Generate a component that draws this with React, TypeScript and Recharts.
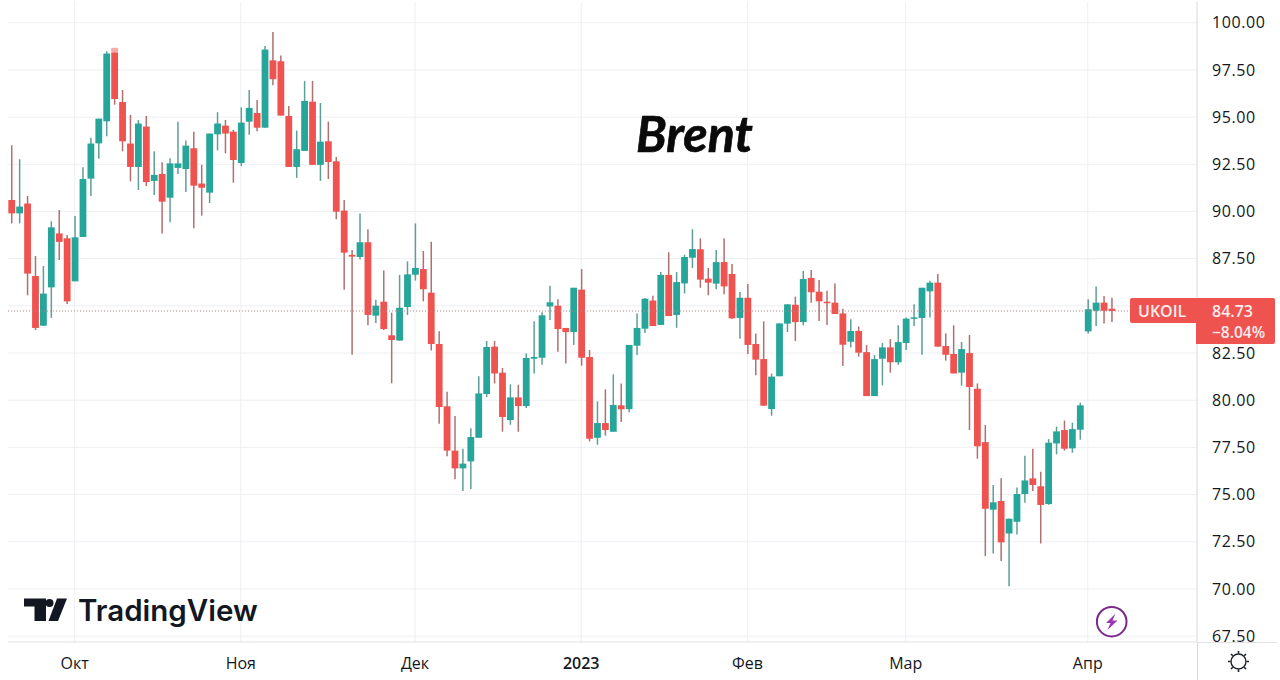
import React from 'react';
import { ComposedChart, Bar, XAxis, YAxis, CartesianGrid, ReferenceLine } from 'recharts';

const opens = [
  90.61, 89.9, 90.42, 86.58, 83.95, 85.98, 88.84, 88.58, 86.3, 88.65,
  91.74, 93.61, 94.78, 98.42, 95.8, 93.6, 92.36, 94.5, 91.62, 91.99,
  90.73, 92.31, 92.25, 93.35, 91.48, 91.0, 94.09, 94.55, 94.23, 92.57,
  94.76, 95.22, 94.44, 98.01, 97.96, 95.06, 92.36, 93.21, 95.82, 92.47,
  93.72, 92.66, 90.05, 87.7, 87.59, 88.37, 84.48, 85.22, 83.44, 83.16,
  84.94, 86.65, 86.95, 85.7, 82.98, 79.68, 77.33, 76.39, 76.76, 78.01,
  80.33, 82.84, 81.46, 78.95, 80.15, 79.69, 82.2, 82.25, 84.97, 85.01,
  83.83, 83.61, 85.86, 82.29, 78.01, 78.79, 78.33, 79.73, 79.53, 82.89,
  83.79, 85.28, 83.99, 86.64, 84.52, 86.19, 87.55, 88.0, 86.44, 86.18,
  87.32, 86.69, 84.36, 85.43, 82.98, 82.18, 79.53, 81.27, 84.06, 85.06,
  84.14, 86.48, 85.75, 85.22, 85.17, 84.6, 83.1, 83.67, 82.55, 80.22,
  82.2, 82.8, 82.01, 83.03, 84.32, 84.36, 85.77, 86.23, 82.87, 82.45,
  81.46, 82.5, 80.61, 77.78, 74.2, 74.66, 72.94, 73.56, 75.03, 75.86,
  75.44, 74.5, 77.71, 78.42, 77.45, 78.44, 83.65, 84.74, 85.17, 84.85,
];

const closes = [
  89.9, 90.26, 86.71, 83.83, 85.65, 89.16, 88.39, 85.24, 88.63, 91.72,
  93.6, 94.92, 98.37, 95.96, 93.72, 92.36, 94.66, 91.56, 91.94, 90.52,
  92.55, 92.55, 93.49, 91.37, 91.26, 94.13, 94.66, 94.13, 92.73, 94.71,
  95.49, 94.44, 98.58, 97.01, 95.08, 92.36, 93.3, 95.86, 92.47, 93.7,
  92.62, 89.99, 87.82, 87.61, 88.37, 84.52, 85.01, 83.77, 83.19, 84.9,
  86.67, 87.01, 85.88, 82.98, 79.64, 77.33, 76.39, 76.64, 78.05, 80.36,
  82.82, 81.42, 79.11, 80.15, 79.69, 82.24, 82.29, 84.5, 85.19, 83.77,
  83.61, 85.96, 82.25, 77.96, 78.79, 78.42, 79.75, 79.52, 82.93, 83.83,
  85.38, 83.93, 86.64, 84.46, 86.26, 87.59, 88.01, 86.39, 86.23, 87.32,
  86.03, 84.34, 85.43, 82.93, 82.15, 79.71, 81.25, 84.07, 85.08, 84.14,
  86.42, 85.72, 85.24, 85.15, 84.57, 82.94, 83.67, 82.52, 80.22, 82.18,
  82.8, 82.01, 83.08, 84.32, 84.39, 85.96, 86.23, 82.84, 82.41, 81.42,
  82.71, 80.7, 77.56, 74.25, 74.59, 72.47, 73.72, 75.03, 75.75, 75.51,
  74.45, 77.75, 78.35, 77.43, 78.47, 79.73, 84.82, 85.17, 84.74, 84.73,
];

const highs = [
  93.51, 92.77, 90.82, 87.64, 87.11, 89.48, 90.08, 88.76, 89.76, 92.34,
  93.91, 94.92, 98.49, 98.67, 96.44, 95.12, 94.85, 95.06, 93.19, 92.61,
  92.82, 94.76, 93.76, 94.23, 92.47, 94.13, 95.26, 94.85, 94.32, 95.52,
  96.44, 95.91, 98.77, 99.51, 98.26, 95.59, 94.29, 96.92, 96.92, 95.75,
  94.76, 92.89, 90.61, 87.96, 89.89, 89.06, 85.33, 86.87, 84.64, 86.64,
  87.36, 89.37, 87.91, 88.4, 83.65, 80.45, 79.16, 77.43, 78.51, 81.27,
  83.14, 83.14, 81.71, 80.84, 80.82, 82.48, 84.18, 84.66, 86.07, 85.35,
  83.83, 85.96, 86.95, 82.66, 79.94, 80.58, 81.37, 80.89, 82.93, 84.6,
  85.42, 85.54, 86.79, 87.84, 86.79, 87.71, 89.06, 88.58, 87.01, 87.96,
  88.58, 87.22, 85.73, 86.16, 83.54, 84.18, 81.41, 84.07, 85.1, 85.49,
  86.85, 86.9, 86.37, 85.8, 86.18, 84.85, 84.29, 83.91, 82.93, 82.4,
  83.03, 83.24, 83.97, 84.39, 85.08, 85.96, 86.33, 86.69, 83.54, 83.97,
  83.08, 83.46, 80.89, 78.69, 75.51, 75.86, 73.74, 75.38, 77.06, 77.43,
  76.21, 77.94, 78.6, 78.93, 78.81, 79.87, 85.35, 86.02, 85.52, 85.43,
];

const lows = [
  89.37, 89.37, 85.56, 83.72, 83.93, 84.36, 87.43, 85.1, 86.3, 88.65,
  90.82, 92.8, 93.98, 95.66, 93.19, 91.6, 91.14, 91.35, 90.88, 88.84,
  89.43, 91.99, 91.03, 89.11, 89.78, 90.45, 93.24, 93.08, 91.53, 92.41,
  94.07, 94.25, 94.44, 96.69, 95.08, 92.36, 91.78, 93.21, 92.47, 91.62,
  91.72, 89.59, 85.86, 82.41, 87.45, 83.97, 84.09, 83.72, 80.9, 83.16,
  84.52, 86.34, 85.24, 82.63, 78.76, 77.03, 75.81, 75.19, 75.29, 78.01,
  80.17, 80.89, 78.33, 78.7, 78.33, 79.59, 81.41, 81.88, 84.25, 82.57,
  81.94, 82.93, 81.83, 77.82, 77.64, 78.12, 78.33, 78.84, 79.36, 82.4,
  83.56, 83.93, 83.99, 84.46, 83.84, 85.66, 87.01, 85.96, 85.56, 85.88,
  85.61, 84.3, 83.26, 82.45, 81.32, 79.71, 79.18, 81.27, 83.61, 83.14,
  83.97, 85.17, 84.2, 83.99, 84.57, 81.81, 82.8, 82.31, 80.22, 80.22,
  80.79, 81.46, 81.88, 82.66, 83.93, 82.41, 84.39, 82.84, 82.1, 81.42,
  80.77, 78.42, 76.9, 71.74, 71.88, 71.48, 70.15, 72.89, 74.57, 75.19,
  72.41, 74.46, 77.13, 77.33, 77.22, 77.91, 83.54, 83.93, 84.07, 84.14,
];

const monthTicks = [8, 29, 51, 72, 93, 113, 136];
const monthLabels = ['Окт', 'Ноя', 'Дек', '2023', 'Фев', 'Мар', 'Апр'];
const priceTicks = [67.5, 70, 72.5, 75, 77.5, 80, 82.5, 85, 87.5, 90, 92.5, 95, 97.5, 100];
const hiddenPriceLabel = 85; // sits under the last price label in the reference

const lastPrice = 84.73;
const changeLabel = '−8.04%';
const symbol = 'UKOIL';
const paleCapIndex = 13; // the top of this candle is faded in the screenshot

const UP = '#26a69a';
const DOWN = '#ef5350';
const UP_WICK = '#5f9e98';
const DOWN_WICK = '#b0706f';
const FONT = '"Open Sans", sans-serif';

const data = opens.map((open, i) => ({
  i,
  open,
  close: closes[i],
  range: [lows[i], highs[i]],
}));

const Candle = (props: any) => {
  const { x, y, width, height, payload } = props;
  const [low, high] = payload.range;
  const perUnit = height / (high - low);
  const up = payload.close >= payload.open;
  const bodyTop = y + (high - Math.max(payload.open, payload.close)) * perUnit;
  const bodyHeight = Math.max(Math.abs(payload.open - payload.close) * perUnit, 1.5);
  const mid = x + width / 2;
  return (
    <g>
      <line x1={mid} x2={mid} y1={y} y2={y + height} stroke={up ? UP_WICK : DOWN_WICK} strokeWidth={1.5} />
      {payload.i === paleCapIndex && (
        <rect x={x} y={y} width={width} height={bodyTop - y} fill="#f6a9a7" />
      )}
      <rect x={x} y={bodyTop} width={width} height={bodyHeight} fill={up ? UP : DOWN} />
    </g>
  );
};

const MonthTick = (props: any) => {
  const { x, y, payload } = props;
  const label = monthLabels[monthTicks.indexOf(payload.value)];
  return (
    <text
      x={x}
      y={y}
      dy={21}
      textAnchor="middle"
      fontFamily={FONT}
      fontSize={16}
      fontWeight={label === '2023' ? 600 : 400}
      fill="#131722"
    >
      {label}
    </text>
  );
};

const boxText: React.CSSProperties = {
  position: 'absolute',
  color: '#fdeceb',
  fontFamily: FONT,
  fontWeight: 600,
  fontSize: 16,
  lineHeight: '20px',
  whiteSpace: 'nowrap',
};

export default function App() {
  return (
    <div style={{ position: 'absolute', left: 0, top: 0, width: 1280, height: 680, background: '#fff', overflow: 'hidden' }}>
      <ComposedChart
        width={1280}
        height={680}
        data={data}
        margin={{ top: 2, right: 0, bottom: 0, left: 8 }}
      >
        <CartesianGrid stroke="#edeff3" strokeWidth={1} syncWithTicks />
        <XAxis
          dataKey="i"
          type="number"
          domain={[-0.417, 149.8]}
          ticks={monthTicks}
          interval={0}
          height={38}
          tick={<MonthTick />}
          tickLine={false}
          tickMargin={0}
          axisLine={{ stroke: '#dfe1e6' }}
          allowDataOverflow
        />
        <YAxis
          orientation="right"
          width={83}
          domain={[67.19, 101.1]}
          ticks={priceTicks}
          interval={0}
          tickFormatter={(v: number) => (v === hiddenPriceLabel ? '' : v.toFixed(2))}
          tickLine={false}
          tickMargin={9}
          axisLine={{ stroke: '#d6d8dd' }}
          tick={{ fill: '#131722', fontFamily: FONT, fontSize: 16, letterSpacing: 0.6 }}
          allowDataOverflow
        />
        <ReferenceLine y={lastPrice} stroke="#b98584" strokeDasharray="1 2" />
        <Bar dataKey="range" barSize={6.8} shape={<Candle />} isAnimationActive={false} />
      </ComposedChart>

      {/* axis lines running past the plot area */}
      <div style={{ position: 'absolute', left: 1197, top: 642, width: 1, height: 38, background: '#d6d8dd' }} />
      <div style={{ position: 'absolute', left: 1197, top: 642, width: 80, height: 1, background: '#dfe1e6' }} />

      <div
        style={{
          position: 'absolute',
          left: 636,
          top: 103,
          fontFamily: 'Lato, sans-serif',
          fontStyle: 'italic',
          fontWeight: 700,
          fontSize: 50,
          lineHeight: '60px',
          color: '#0a0a0a',
          WebkitTextStroke: '0.7px #0a0a0a',
        }}
      >
        Brent
      </div>

      {/* last price label */}
      <div style={{ position: 'absolute', left: 1130, top: 298, width: 66, height: 25, background: DOWN, borderRadius: '2px 0 0 2px' }} />
      <div style={{ position: 'absolute', left: 1196, top: 298, width: 79, height: 46, background: DOWN, borderRadius: '0 2px 2px 0' }} />
      <div style={{ ...boxText, left: 1138, top: 301 }}>{symbol}</div>
      <div style={{ ...boxText, left: 1212, top: 301 }}>{lastPrice.toFixed(2)}</div>
      <div style={{ ...boxText, left: 1212, top: 322, fontSize: 15.5 }}>{changeLabel}</div>

      {/* TradingView logo */}
      <svg style={{ position: 'absolute', left: 20, top: 594 }} width={52} height={32}>
        <path d="M4 4.5H26V27H14.5V12.5H4Z" fill="#131722" />
        <circle cx={29.5} cy={9} r={4} fill="#131722" />
        <path d="M37 4.5H47L38 27H28.5Z" fill="#131722" />
      </svg>
      <div
        style={{
          position: 'absolute',
          left: 78,
          top: 590,
          fontFamily: 'Inter, sans-serif',
          fontWeight: 600,
          fontSize: 29.5,
          lineHeight: '40px',
          color: '#131722',
          letterSpacing: 0,
        }}
      >
        TradingView
      </div>

      {/* lightning badge */}
      <svg style={{ position: 'absolute', left: 1094, top: 604 }} width={36} height={36}>
        <circle cx={17.7} cy={17.7} r={14.8} fill="none" stroke="#7b2a8c" strokeWidth={2} />
        <path d="M21.5 9.5L12 19H16.5L13.5 26L23.5 16.5H18.5Z" fill="#9c36b5" />
      </svg>

      {/* theme icon */}
      <svg style={{ position: 'absolute', left: 1224, top: 647 }} width={30} height={30} fill="none" stroke="#1d2128">
        <circle cx={14.5} cy={14.5} r={7.5} strokeWidth={1.4} />
        <path
          d="M14.5 4V6.5M14.5 22.5V25M4 14.5H6.5M22.5 14.5H25M7 7L8.8 8.8M20.2 20.2L22 22M22 7L20.2 8.8M8.8 20.2L7 22"
          strokeWidth={1.6}
        />
      </svg>
    </div>
  );
}
